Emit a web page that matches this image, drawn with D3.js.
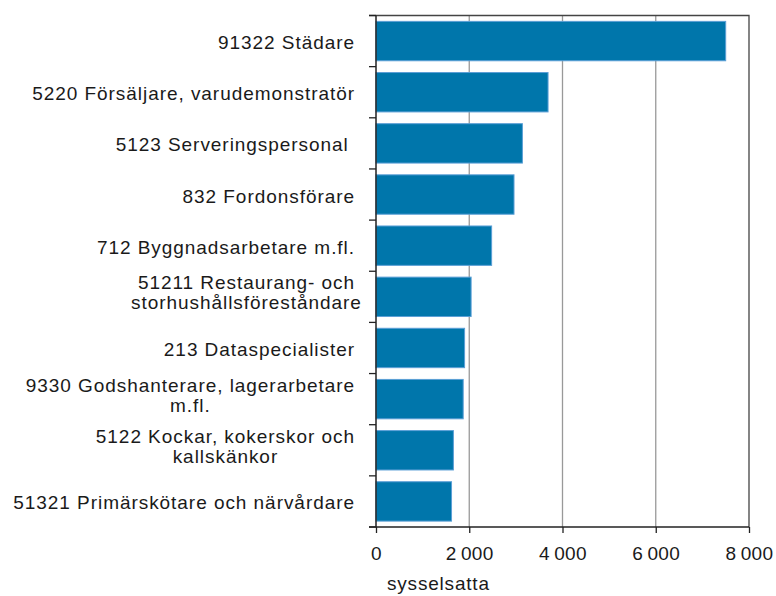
<!DOCTYPE html>
<html>
<head>
<meta charset="utf-8">
<script src="https://cdn.jsdelivr.net/npm/d3@7"></script>
<style>
  body { margin: 0; background: #fff; }
  svg text { font-family: "Liberation Sans", Arial, sans-serif; fill: #1a1a1a; }
</style>
</head>
<body>
<svg width="776" height="596"></svg>
<script>
// occupations (line breaks as in the original)
var categories = [
  ["91322 Städare"],
  ["5220 Försäljare, varudemonstratör"],
  ["5123 Serveringspersonal "],
  ["832 Fordonsförare"],
  ["712 Byggnadsarbetare m.fl."],
  ["51211 Restaurang- och", "storhushållsföreståndare"],
  ["213 Dataspecialister"],
  ["9330 Godshanterare, lagerarbetare", "m.fl."],
  ["5122 Kockar, kokerskor och", "kallskänkor"],
  ["51321 Primärskötare och närvårdare"]
];
var values = [7500, 3690, 3140, 2960, 2480, 2040, 1900, 1870, 1660, 1620];
var xTicks = [0, 2000, 4000, 6000, 8000];
var xTitle = "sysselsatta";

var margin = {top: 15.5, right: 27, bottom: 69, left: 376},
    width = 776 - margin.left - margin.right,
    height = 596 - margin.top - margin.bottom;

var svg = d3.select("svg"),
    g = svg.append("g").attr("transform", "translate(" + margin.left + "," + margin.top + ")");

var x = d3.scaleLinear().domain([0, 8000]).range([0, width]);
var y = d3.scaleBand()
    .domain(d3.range(categories.length))
    .range([0, height])
    .paddingInner(0.23)
    .paddingOuter(0.115);
var step = y.step();

var fmt = function(d) { return d3.format(",")(d).replace(",", "\u2009"); };

// gridlines
g.selectAll(".grid")
  .data(xTicks.slice(1, -1))
  .enter().append("line")
    .attr("x1", function(d) { return x(d); })
    .attr("x2", function(d) { return x(d); })
    .attr("y1", 0)
    .attr("y2", height)
    .attr("stroke", "#999")
    .attr("stroke-width", 1.3);

// frame top + right
g.append("path")
    .attr("d", "M-7,0H" + width + "V" + height)
    .attr("fill", "none")
    .attr("stroke", "#444")
    .attr("stroke-width", 1.3);

// bars
g.selectAll(".bar")
  .data(values)
  .enter().append("rect")
    .attr("x", 0)
    .attr("y", function(d, i) { return y(i); })
    .attr("width", function(d) { return x(d); })
    .attr("height", y.bandwidth())
    .attr("fill", "#0076ab")
    .attr("stroke", "#5b9fd6")
    .attr("stroke-width", 1);

// y axis line and ticks at band boundaries
g.append("line")
    .attr("x1", 0).attr("x2", 0)
    .attr("y1", 0).attr("y2", height)
    .attr("stroke", "#222").attr("stroke-width", 1.5);
g.selectAll(".ytick")
  .data(d3.range(categories.length + 1))
  .enter().append("line")
    .attr("x1", -7).attr("x2", 0)
    .attr("y1", function(d) { return d * step; })
    .attr("y2", function(d) { return d * step; })
    .attr("stroke", "#222").attr("stroke-width", 1.3);

// x axis
var xAxis = g.append("g")
    .attr("transform", "translate(0," + height + ")")
    .call(d3.axisBottom(x).tickValues(xTicks).tickSize(6).tickPadding(14).tickFormat(fmt).tickSizeOuter(0));
xAxis.select(".domain").remove();
xAxis.append("line")
    .attr("x1", -7).attr("x2", width)
    .attr("stroke", "#222").attr("stroke-width", 1.5);
xAxis.selectAll(".tick line").attr("stroke", "#222").attr("stroke-width", 1.3);
xAxis.selectAll(".tick text")
    .attr("font-size", 19)
    .attr("letter-spacing", "0.4px")
    .style("font-family", "'Liberation Sans', Arial, sans-serif")
    .attr("fill", "#1a1a1a");

svg.append("text")
    .attr("x", margin.left + 11)
    .attr("y", 590)
    .attr("font-size", 19)
    .attr("letter-spacing", "0.8px")
    .text(xTitle);

// category labels
var labelX = -21, fs = 19, ls = "0.95px";
categories.forEach(function(lines, i) {
  var c = y(i) + y.bandwidth() / 2;
  if (lines.length === 1) {
    g.append("text")
        .attr("x", labelX)
        .attr("y", c + 8)
        .attr("text-anchor", "end")
        .attr("font-size", fs)
        .attr("letter-spacing", ls)
        .attr("xml:space", "preserve")
        .text(lines[0]);
  } else {
    var t1 = g.append("text")
        .attr("x", labelX)
        .attr("y", c - 7.5)
        .attr("text-anchor", "end")
        .attr("font-size", fs)
        .attr("letter-spacing", ls)
        .text(lines[0]);
    var w = t1.node().getComputedTextLength();
    g.append("text")
        .attr("x", labelX - w / 2)
        .attr("y", c + 12.5)
        .attr("text-anchor", "middle")
        .attr("font-size", fs)
        .attr("letter-spacing", ls)
        .text(lines[1]);
  }
});
</script>
</body>
</html>
